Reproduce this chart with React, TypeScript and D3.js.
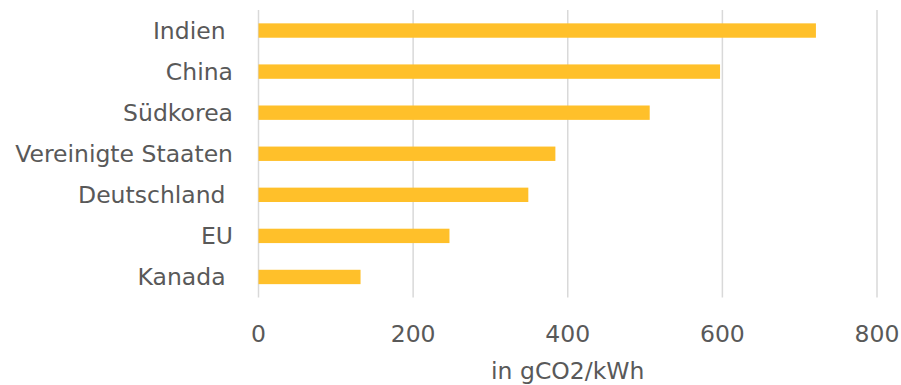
import React from "react";
import * as d3 from "d3";

// Emissions intensity of electricity generation, gCO2 per kWh
const countries = ["Indien ", "China", "Südkorea", "Vereinigte Staaten", "Deutschland ", "EU", "Kanada "];
const intensity = [721, 597, 506, 384, 349, 247, 132];
const xTicks = [0, 200, 400, 600, 800];
const axisTitle = "in gCO2/kWh";

const W = 901;
const H = 385;
const plot = { left: 258.5, right: 877, top: 10, bottom: 297.5 };
const FONT = "'DejaVu Sans', 'Open Sans', sans-serif";
const FS = 23.5;
const TEXT = "#595959";
const BAR = "#FFC02A";
const GRID = "#D9D9D9";

export default function App() {
  const x = d3.scaleLinear().domain([0, 800]).range([plot.left, plot.right]);
  const y = d3
    .scaleBand<string>()
    .domain(countries)
    .range([plot.top, plot.bottom])
    .paddingInner(0.65)
    .paddingOuter(0.325);

  return (
    <svg
      width={W}
      height={H}
      viewBox={`0 0 ${W} ${H}`}
      style={{ position: "absolute", left: 0, top: 0, background: "#fff" }}
    >
      {xTicks.map((t) => (
        <line
          key={`g${t}`}
          x1={x(t)}
          x2={x(t)}
          y1={plot.top}
          y2={plot.bottom}
          stroke={GRID}
          strokeWidth={1.5}
        />
      ))}
      {countries.map((c, i) => (
        <rect
          key={c}
          x={x(0)}
          y={y(c)}
          width={x(intensity[i]) - x(0)}
          height={y.bandwidth()}
          fill={BAR}
        />
      ))}
      {countries.map((c) => (
        <text
          key={`l${c}`}
          x={233}
          y={(y(c) as number) + y.bandwidth() / 2}
          dy="0.35em"
          textAnchor="end"
          fontFamily={FONT}
          fontSize={FS}
          fill={TEXT}
          style={{ whiteSpace: "pre" }}
        >
          {c}
        </text>
      ))}
      {xTicks.map((t) => (
        <text
          key={`t${t}`}
          x={x(t)}
          y={342}
          textAnchor="middle"
          fontFamily={FONT}
          fontSize={FS}
          fill={TEXT}
        >
          {t}
        </text>
      ))}
      <text
        x={(plot.left + plot.right) / 2}
        y={379}
        textAnchor="middle"
        fontFamily={FONT}
        fontSize={FS}
        fill={TEXT}
      >
        {axisTitle}
      </text>
    </svg>
  );
}
